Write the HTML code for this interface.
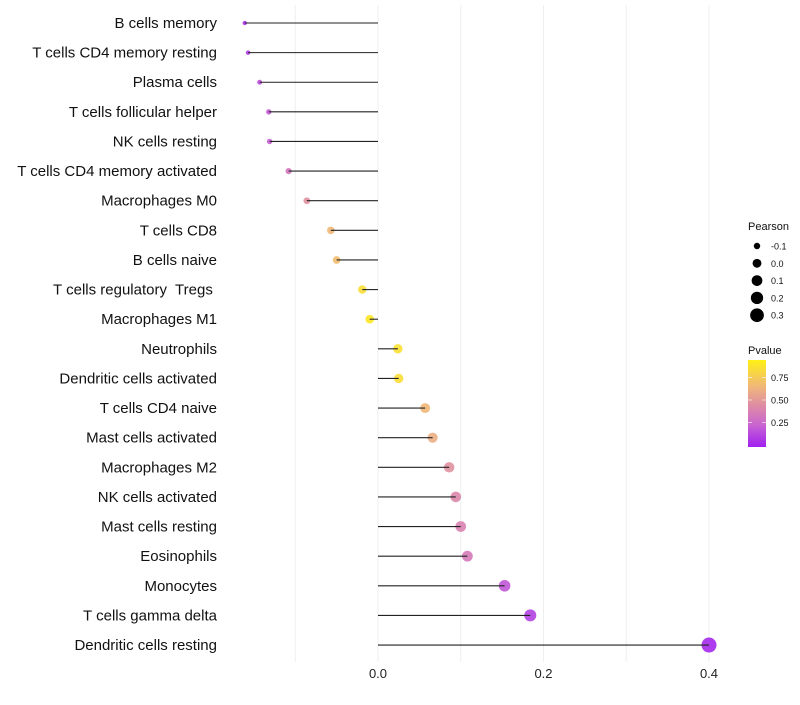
<!DOCTYPE html>
<html><head><meta charset="utf-8"><style>
body{margin:0;background:#fff;font-family:"Liberation Sans",sans-serif}
text{white-space:pre}
</style></head><body>
<svg id="c" width="800" height="700" xmlns="http://www.w3.org/2000/svg"></svg>
<script>
const categories=["B cells memory","T cells CD4 memory resting","Plasma cells","T cells follicular helper","NK cells resting","T cells CD4 memory activated","Macrophages M0","T cells CD8","B cells naive","T cells regulatory  Tregs ","Macrophages M1","Neutrophils","Dendritic cells activated","T cells CD4 naive","Mast cells activated","Macrophages M2","NK cells activated","Mast cells resting","Eosinophils","Monocytes","T cells gamma delta","Dendritic cells resting"];
const pearson=[-0.161,-0.157,-0.143,-0.132,-0.131,-0.108,-0.086,-0.057,-0.050,-0.019,-0.010,0.024,0.025,0.057,0.066,0.086,0.094,0.100,0.108,0.153,0.184,0.400];
const pvalue=[0.05,0.1,0.18,0.22,0.24,0.35,0.5,0.7,0.72,0.9,0.95,0.92,0.9,0.7,0.65,0.5,0.45,0.42,0.38,0.2,0.12,0.03];
const xTicks=[0.0,0.2,0.4];
const gridVals=[-0.1,0.0,0.1,0.2,0.3,0.4];
const sizeLegend=[-0.1,0.0,0.1,0.2,0.3];
const pTicks=[0.75,0.50,0.25];
const NS="http://www.w3.org/2000/svg";
const svg=document.getElementById('c');
const X=v=>378+v*827.5;
const Y=i=>23+i*29.62;
const R=v=>Math.sqrt(Math.max(1,19.5+92*v));
const stops=[[0,[160,32,240]],[0.25,[200,100,210]],[0.45,[220,135,170]],[0.7,[240,184,120]],[1,[255,240,20]]];
function col(p){for(let k=0;k<stops.length-1;k++){const a=stops[k],b=stops[k+1];if(p<=b[0]){const t=(p-a[0])/(b[0]-a[0]);const c=a[1].map((x,j)=>Math.round(x+(b[1][j]-x)*t));return `rgb(${c})`;}}return 'rgb(255,240,20)';}
function el(t,a,p){const e=document.createElementNS(NS,t);for(const k in a)e.setAttribute(k,a[k]);(p||svg).appendChild(e);return e;}
gridVals.forEach(v=>{const g=el('line',{x1:X(v),x2:X(v),y1:5,y2:662,stroke:'#efefef','stroke-width':1});

});
categories.forEach((c,i)=>{
const y=Y(i);
const t=el('text',{x:217,y:y+5,'text-anchor':'end','font-size':15,fill:'#111'});t.textContent=c;


const p=el('circle',{cx:X(pearson[i]),cy:y,r:R(pearson[i]),fill:col(pvalue[i]),'fill-opacity':0.9});


const l=el('line',{x1:X(0),x2:X(pearson[i]),y1:y,y2:y,stroke:'#222','stroke-width':1.1});


});
xTicks.forEach(v=>{const t=el('text',{x:X(v),y:678,'text-anchor':'middle','font-size':13,fill:'#222'});t.textContent=v.toFixed(1);

});
let t=el('text',{x:748,y:230,'font-size':11,fill:'#111'});t.textContent='Pearson';


sizeLegend.forEach((v,i)=>{const y=246+i*17.3;
const c=el('circle',{cx:757,cy:y,r:R(v),fill:'#000'});


const s=el('text',{x:771,y:y+3.5,'font-size':9,fill:'#111'});s.textContent=v.toFixed(1);

});
t=el('text',{x:748,y:354,'font-size':11,fill:'#111'});t.textContent='Pvalue';


const defs=el('defs',{});const gr=el('linearGradient',{id:'g',x1:0,y1:1,x2:0,y2:0},defs);
stops.forEach(s=>el('stop',{offset:s[0],'stop-color':`rgb(${s[1]})`},gr));
const bar=el('rect',{x:748,y:360,width:18,height:87,fill:'url(#g)'});


pTicks.forEach(v=>{const y=400-(v-0.5)*90;
el('line',{x1:748,x2:752,y1:y,y2:y,stroke:'#fff','stroke-width':0.6});el('line',{x1:762,x2:766,y1:y,y2:y,stroke:'#fff','stroke-width':0.6});
const s=el('text',{x:771,y:y+3.5,'font-size':9,fill:'#111'});s.textContent=v.toFixed(2);

});
</script>
</body></html>
